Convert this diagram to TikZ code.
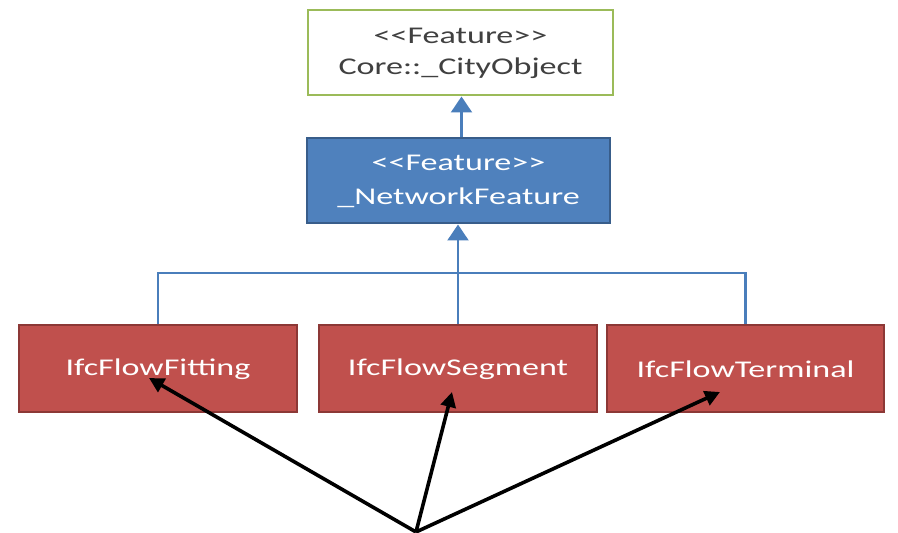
\documentclass[tikz,border=0pt]{standalone}
\usepackage{fontspec}
\setmainfont[FakeStretch=1.42]{Carlito}
\usetikzlibrary{arrows.meta}
\definecolor{olivegreen}{HTML}{9BBB59}
\definecolor{featblue}{HTML}{4F81BD}
\definecolor{featblueedge}{HTML}{385D8A}
\definecolor{linkblue}{HTML}{4A7EBB}
\definecolor{ifcred}{HTML}{C0504D}
\definecolor{ifcrededge}{HTML}{8C3836}
\definecolor{textgray}{HTML}{404040}
% angle brackets kept apart so they stay two characters
\newcommand{\stereoL}{<\kern0pt<}
\newcommand{\stereoR}{>\kern0pt>}
\tikzset{
  x=1pt, y=1pt,
  citybox/.style={draw=olivegreen, line width=2pt, fill=white, minimum width=305pt, minimum height=85pt,
    inner sep=0pt, align=center, text=textgray, font=\fontsize{24}{31}\selectfont},
  featbox/.style={draw=featblueedge, line width=2pt, fill=featblue, minimum width=303pt, minimum height=85pt,
    inner sep=0pt, align=center, text=white, font=\fontsize{24}{34}\selectfont},
  ifcbox/.style={draw=ifcrededge, line width=2pt, fill=ifcred, minimum width=278pt, minimum height=87pt,
    inner sep=0pt, align=center, text=white, font=\fontsize{24}{30}\selectfont},
  genline/.style={draw=linkblue, line width=2.2pt},
  genarrow/.style={genline, -{Triangle[width=21pt,length=16pt]}},
  pointer/.style={draw=black, line width=3.6pt, -{Triangle[width=15pt,length=15pt]}},
}
\begin{document}
\begin{tikzpicture}
\useasboundingbox (0,0) rectangle (898,533);

% class boxes
\node[citybox] (city) at (460.5,480) {\stereoL Feature\stereoR\\Core::\_CityObject};
\node[featbox] (net) at (458.5,352) {\stereoL Feature\stereoR\\\_NetworkFeature};
\node[ifcbox] (fit) at (158,164) {IfcFlowFitting};
\node[ifcbox] (seg) at (458,164) {IfcFlowSegment};
\node[ifcbox, minimum width=277pt] (term) at (745.5,164) {IfcFlowTerminal};

% generalisation links
\draw[genarrow] (net.north -| city.south) ++(1,0) coordinate (netTop) -- (netTop |- city.south);
\coordinate (bus) at (458,260);
\draw[genline] (fit.north) |- (bus) -| (term.north);
\draw[genarrow] (seg.north) -- (seg.north |- net.south);

% pointers from below
\coordinate (src) at (416,1);
\coordinate (tipFit) at (149,155);
\coordinate (tipSeg) at (452,141);
\coordinate (tipTerm) at (720,141);
\draw[pointer] (src) -- (tipFit);
\draw[pointer] (src) -- (tipSeg);
\draw[pointer] (src) -- (tipTerm);
\end{tikzpicture}
\end{document}
